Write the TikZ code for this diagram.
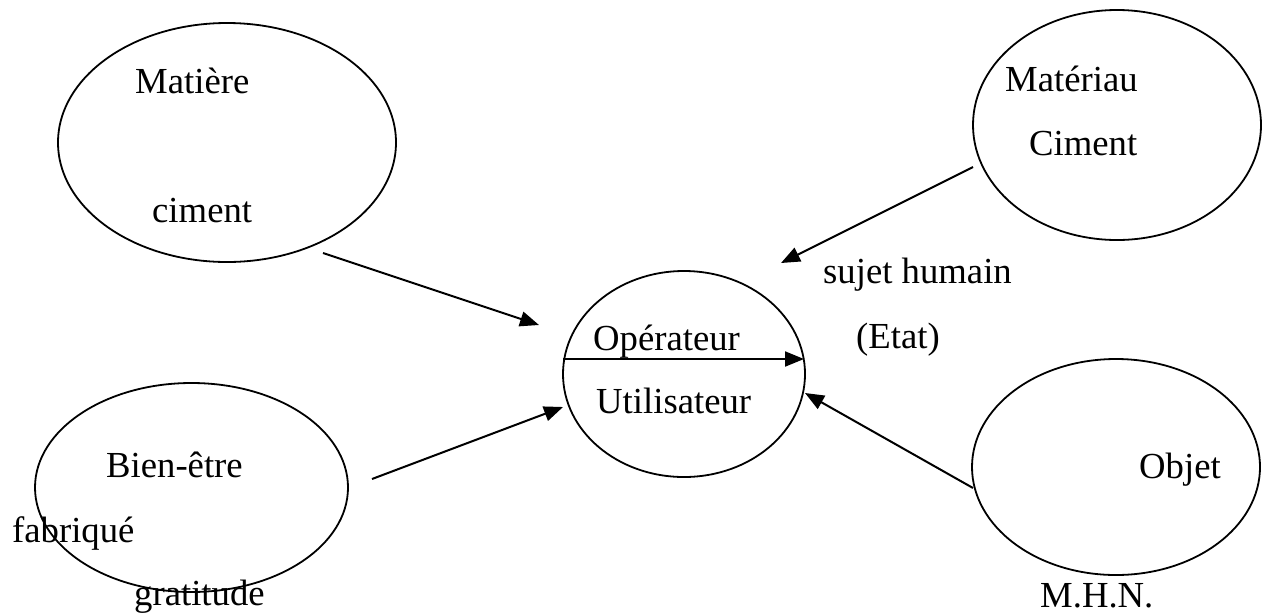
\documentclass[tikz,border=0pt]{standalone}
\usepackage{fontspec}
\setmainfont{Liberation Serif}
\usetikzlibrary{shapes.geometric,arrows.meta}
\begin{document}
\begin{tikzpicture}[x=1pt,y=-1pt,
  oval/.style={draw, ellipse, line width=1.8pt, inner sep=0pt},
  lbl/.style={anchor=base west, inner sep=0pt, font=\fontsize{36.7}{44}\selectfont},
  arr/.style={line width=2pt, -{Triangle[length=19pt,width=15pt]}}]
\useasboundingbox (0,0) rectangle (1265,614);
% ellipses
\node[oval, minimum width=338pt, minimum height=239pt] (matiere) at (227,142.5) {};
\node[oval, minimum width=288pt, minimum height=230pt] (materiau) at (1117,125) {};
\node[oval, minimum width=242pt, minimum height=206pt] (centre) at (684,374) {};
\node[oval, minimum width=313pt, minimum height=209pt] (bien) at (191.5,487.5) {};
\node[oval, minimum width=288pt, minimum height=216pt] (objet) at (1116,467) {};
% texts
\node[lbl] (t1) at (135,93) {Matière};
\node[lbl] (t2) at (152,222) {ciment};
\node[lbl] (t3) at (1005,91) {Matériau};
\node[lbl] (t4) at (1029,155) {Ciment};
\node[lbl] (t5) at (823,283) {sujet humain};
\node[lbl] (t6) at (856,348) {(Etat)};
\node[lbl] (t7) at (593,350) {Opérateur};
\node[lbl] (t8) at (596,413) {Utilisateur};
\node[lbl] (t9) at (106,477) {Bien-être};
\node[lbl] (t10) at (12,542) {fabriqué};
\node[lbl] (t11) at (134,605) {gratitude};
\node[lbl] (t12) at (1139,478) {Objet};
\node[lbl] (t13) at (1040,607) {M.H.N.};
% connector end points
\coordinate (a1s) at (323,253);
\coordinate (a1e) at (539,325);
\coordinate (a2s) at (372,479);
\coordinate (a2e) at (563,407);
\coordinate (a3s) at (973,167);
\coordinate (a3e) at (781,263);
\coordinate (a4s) at (973,488);
\coordinate (a4e) at (805,393);
\coordinate (hs) at (563,359);
\coordinate (he) at (804,359);
% connectors
\draw[arr] (a1s) -- (a1e);
\draw[arr] (a2s) -- (a2e);
\draw[arr] (a3s) -- (a3e);
\draw[arr] (a4s) -- (a4e);
\draw[arr] (hs) -- (he);
\end{tikzpicture}
\end{document}
